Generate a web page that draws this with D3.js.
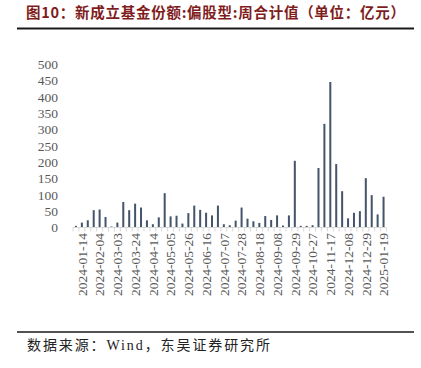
<!DOCTYPE html>
<html>
<head>
<meta charset="utf-8">
<script src="https://cdn.jsdelivr.net/npm/d3@7"></script>
<style>
  body { margin: 0; background: #fff; }
</style>
</head>
<body>
<svg id="chart" width="421" height="368"></svg>
<script>
const svg = d3.select("#chart");

// weekly dates (holiday weeks 2024-02-25 and 2024-10-06 are absent)
const weeks = [
  "2024-01-07","2024-01-14","2024-01-21","2024-01-28","2024-02-04","2024-02-11","2024-02-18",
  "2024-03-03","2024-03-10","2024-03-17","2024-03-24","2024-03-31","2024-04-07","2024-04-14",
  "2024-04-21","2024-04-28","2024-05-05","2024-05-12","2024-05-19","2024-05-26","2024-06-02",
  "2024-06-09","2024-06-16","2024-06-23","2024-06-30","2024-07-07","2024-07-14","2024-07-21",
  "2024-07-28","2024-08-04","2024-08-11","2024-08-18","2024-08-25","2024-09-01","2024-09-08",
  "2024-09-15","2024-09-22","2024-09-29","2024-10-13","2024-10-20","2024-10-27","2024-11-03",
  "2024-11-10","2024-11-17","2024-11-24","2024-12-01","2024-12-08","2024-12-15","2024-12-22",
  "2024-12-29","2025-01-05","2025-01-12","2025-01-19"
];
const shares = [
  5, 15, 22, 53, 55, 32, 3, 15, 78, 53, 73, 61, 22, 10, 31, 105, 34, 36, 12, 44, 67,
  54, 45, 37, 67, 10, 7, 21, 61, 27, 19, 14, 35, 23, 37, 6, 37, 204, 5, 5, 7, 182,
  317, 445, 194, 111, 28, 45, 50, 151, 99, 40, 94
];
const yTicks = [0, 50, 100, 150, 200, 250, 300, 350, 400, 450, 500];
const shownLabels = weeks.filter((d, i) => i % 3 === 1);

const data = weeks.map((w, i) => ({ week: w, value: shares[i] }));

const x = d3.scaleBand().domain(weeks).range([73, 386.5]);
const y = d3.scaleLinear().domain([0, 500]).range([227.5, 64]);

// title
svg.append("text")
    .attr("x", 26)
    .attr("y", 18)
    .attr("font-family", "Noto Sans CJK SC")
    .attr("font-weight", "bold")
    .attr("font-size", 14.5)
    .attr("fill", "#7f1d1d")
    .attr("textLength", 379)
    .attr("lengthAdjust", "spacing")
    .text("图10：新成立基金份额:偏股型:周合计值（单位：亿元）");

svg.append("line")
    .attr("x1", 17).attr("x2", 414)
    .attr("y1", 28.5).attr("y2", 28.5)
    .attr("stroke", "#1a1a1a")
    .attr("stroke-width", 2);

// y axis, labels only
const yAxis = svg.append("g")
    .attr("transform", "translate(58,0)")
    .call(d3.axisLeft(y).tickValues(yTicks).tickSize(0).tickPadding(0));
yAxis.select(".domain").remove();
yAxis.selectAll("text")
    .attr("font-family", "Liberation Serif")
    .attr("font-size", 13.5)
    .attr("fill", "#595959");

// bars
svg.append("g")
    .selectAll("rect")
    .data(data)
    .join("rect")
    .attr("x", d => x(d.week) + x.bandwidth() / 2 - 1)
    .attr("y", d => y(d.value))
    .attr("width", 2)
    .attr("height", d => y(0) - y(d.value))
    .attr("fill", "#44546a");

// x axis line and ticks between categories
const xAxis = svg.append("g");
xAxis.append("line")
    .attr("x1", x.range()[0]).attr("x2", x.range()[1])
    .attr("y1", y(0)).attr("y2", y(0))
    .attr("stroke", "#d9d9d9")
    .attr("stroke-width", 1);
xAxis.selectAll("line.tick")
    .data(weeks.concat([null]))
    .join("line")
    .attr("class", "tick")
    .attr("x1", (d, i) => x.range()[0] + i * x.step())
    .attr("x2", (d, i) => x.range()[0] + i * x.step())
    .attr("y1", y(0))
    .attr("y2", y(0) + 4)
    .attr("stroke", "#d9d9d9")
    .attr("stroke-width", 1);

xAxis.selectAll("text")
    .data(shownLabels)
    .join("text")
    .attr("transform", d => `translate(${x(d) + x.bandwidth() / 2},233) rotate(-90)`)
    .attr("text-anchor", "end")
    .attr("dy", "0.35em")
    .attr("font-family", "Liberation Serif")
    .attr("font-size", 13.5)
    .attr("fill", "#595959")
    .text(d => d);

// footer
svg.append("line")
    .attr("x1", 17).attr("x2", 414)
    .attr("y1", 332).attr("y2", 332)
    .attr("stroke", "#1a1a1a")
    .attr("stroke-width", 1.6);

svg.append("text")
    .attr("x", 27)
    .attr("y", 350)
    .attr("font-family", "Liberation Serif, Noto Sans CJK SC")
    .attr("font-size", 14)
    .attr("fill", "#222")
    .attr("textLength", 243)
    .attr("lengthAdjust", "spacing")
    .text("数据来源：Wind，东吴证券研究所");
</script>
</body>
</html>
